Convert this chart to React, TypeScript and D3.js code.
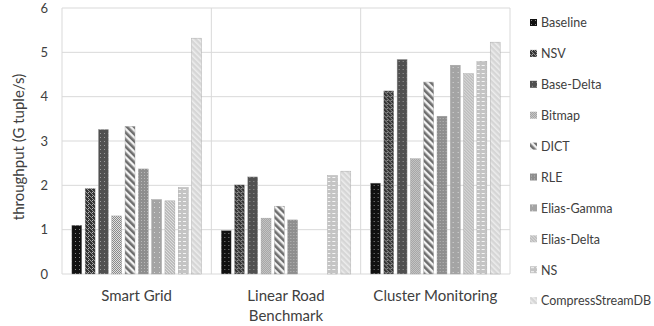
import React from 'react';
import * as d3 from 'd3';

const categories = ['Smart Grid', 'Linear Road Benchmark', 'Cluster Monitoring'];
const series = ['Baseline', 'NSV', 'Base-Delta', 'Bitmap', 'DICT', 'RLE', 'Elias-Gamma', 'Elias-Delta', 'NS', 'CompressStreamDB'];

// one array per category, in series order
const smartGrid = [1.1, 1.93, 3.26, 1.31, 3.33, 2.37, 1.68, 1.65, 1.95, 5.32];
const linearRoad = [0.98, 2.01, 2.19, 1.26, 1.53, 1.22, 0, 0, 2.22, 2.32];
const clusterMon = [2.05, 4.13, 4.84, 2.6, 4.33, 3.56, 4.71, 4.52, 4.8, 5.23];
const values = [smartGrid, linearRoad, clusterMon];

const yTicks = [0, 1, 2, 3, 4, 5, 6];

const W = 654;
const H = 326;
const margin = { top: 8, right: 144, bottom: 52, left: 62 };
const FONT = 'Lato, "Open Sans", sans-serif';
const GRID = '#d9d9d9';
const TEXT = '#404040';

// pattern id per series
const patId = (i: number) => `pat${i}`;

const Patterns = () => (
  <defs>
    {/* Baseline: black with sparse dots */}
    <pattern id={patId(0)} width="4" height="4" patternUnits="userSpaceOnUse">
      <rect width="4" height="4" fill="#111" />
      <rect x="1" y="1" width="1" height="1" fill="#888" />
    </pattern>
    {/* NSV: dark weave */}
    <pattern id={patId(1)} width="4" height="4" patternUnits="userSpaceOnUse">
      <rect width="4" height="4" fill="#333" />
      <path d="M0,0 L4,4 M-1,3 L1,5 M3,-1 L5,1" stroke="#9a9a9a" strokeWidth="1" />
      <rect x="2" y="0" width="1" height="1" fill="#bbb" />
    </pattern>
    {/* Base-Delta: dark grey with small dots */}
    <pattern id={patId(2)} width="4" height="4" patternUnits="userSpaceOnUse">
      <rect width="4" height="4" fill="#505050" />
      <rect x="2" y="1" width="1" height="1" fill="#999" />
    </pattern>
    {/* Bitmap: fine checker */}
    <pattern id={patId(3)} width="2" height="2" patternUnits="userSpaceOnUse">
      <rect width="2" height="2" fill="#e0e0e0" />
      <rect width="1" height="1" fill="#8a8a8a" />
      <rect x="1" y="1" width="1" height="1" fill="#8a8a8a" />
    </pattern>
    {/* DICT: wide diagonal stripes, top-left to bottom-right */}
    <pattern id={patId(4)} width="5" height="5" patternUnits="userSpaceOnUse" patternTransform="rotate(-45)">
      <rect width="5" height="5" fill="#f2f2f2" />
      <rect width="2.6" height="5" fill="#6e6e6e" />
    </pattern>
    {/* RLE: grey texture */}
    <pattern id={patId(5)} width="3" height="3" patternUnits="userSpaceOnUse">
      <rect width="3" height="3" fill="#8e8e8e" />
      <rect x="1" y="1" width="1" height="1" fill="#b8b8b8" />
    </pattern>
    {/* Elias-Gamma: grey with sparse dots */}
    <pattern id={patId(6)} width="5" height="5" patternUnits="userSpaceOnUse">
      <rect width="5" height="5" fill="#a4a4a4" />
      <rect x="2" y="2" width="1" height="1" fill="#d8d8d8" />
    </pattern>
    {/* Elias-Delta: light texture */}
    <pattern id={patId(7)} width="3" height="3" patternUnits="userSpaceOnUse">
      <rect width="3" height="3" fill="#bdbdbd" />
      <path d="M0,0 L3,3" stroke="#e6e6e6" strokeWidth="0.8" />
    </pattern>
    {/* NS: light grey with white dashes */}
    <pattern id={patId(8)} width="5" height="4" patternUnits="userSpaceOnUse">
      <rect width="5" height="4" fill="#c4c4c4" />
      <rect x="1" y="1" width="3" height="1" fill="#f4f4f4" />
    </pattern>
    {/* CompressStreamDB: very light diagonal */}
    <pattern id={patId(9)} width="4" height="4" patternUnits="userSpaceOnUse" patternTransform="rotate(-45)">
      <rect width="4" height="4" fill="#d6d6d6" />
      <rect width="1.5" height="4" fill="#ededed" />
    </pattern>
  </defs>
);

export default function App() {
  const x0 = d3
    .scaleBand<string>()
    .domain(categories)
    .range([margin.left, W - margin.right])
    .paddingInner(0)
    .paddingOuter(0);

  const x1 = d3
    .scaleBand<string>()
    .domain(series)
    .range([0, x0.bandwidth()])
    .paddingInner(0.25)
    .paddingOuter(0.74);

  const y = d3
    .scaleLinear()
    .domain([0, 6])
    .range([H - margin.bottom, margin.top]);

  const left = margin.left;
  const right = W - margin.right;

  const legendX = 530;
  const legendY0 = 23;
  const legendStep = 30.9;

  return (
    <svg
      width={W}
      height={H}
      style={{ position: 'absolute', left: 0, top: 0, background: '#fff' }}
      fontFamily={FONT}
    >
      <Patterns />

      {/* horizontal grid */}
      {yTicks.map((t) => (
        <line key={t} x1={left} x2={right} y1={y(t)} y2={y(t)} stroke={GRID} strokeWidth={1} />
      ))}
      {/* category separators */}
      {categories.map((c) => (
        <line key={c} x1={x0(c)!} x2={x0(c)!} y1={y(6)} y2={y(0)} stroke={GRID} strokeWidth={1} />
      ))}
      <line x1={right} x2={right} y1={y(6)} y2={y(0)} stroke={GRID} strokeWidth={1} />

      {/* y tick labels */}
      {yTicks.map((t) => (
        <text key={t} x={48} y={y(t)} dy="0.35em" textAnchor="end" fontSize={13} fill={TEXT}>
          {t}
        </text>
      ))}

      {/* y title */}
      <text
        transform={`translate(19,${(y(0) + y(6)) / 2 + 6}) rotate(-90)`}
        textAnchor="middle"
        dy="0.35em"
        fontSize={15}
        fill={TEXT}
      >
        throughput (G tuple/s)
      </text>

      {/* bars */}
      {categories.map((c, ci) => (
        <g key={c} transform={`translate(${x0(c)},0)`}>
          {series.map((s, si) => {
            const v = values[ci][si];
            if (!v) return null;
            return (
              <rect
                key={s}
                x={x1(s)!}
                y={y(v)}
                width={x1.bandwidth()}
                height={y(0) - y(v)}
                fill={`url(#${patId(si)})`}
                stroke="#a0a0a0"
                strokeWidth={0.4}
              />
            );
          })}
        </g>
      ))}

      {/* category labels */}
      {categories.map((c) => {
        const cx = x0(c)! + x0.bandwidth() / 2;
        const lines = c === 'Linear Road Benchmark' ? ['Linear Road', 'Benchmark'] : [c];
        return (
          <text key={c} x={cx} y={301} textAnchor="middle" fontSize={15} fill={TEXT}>
            {lines.map((l, li) => (
              <tspan key={l} x={cx} dy={li === 0 ? 0 : 20}>
                {l}
              </tspan>
            ))}
          </text>
        );
      })}

      {/* legend */}
      {series.map((s, i) => (
        <g key={s} transform={`translate(${legendX},${legendY0 + i * legendStep})`}>
          <rect x={0} y={-4} width={7} height={7} fill={`url(#${patId(i)})`} />
          <text x={11} y={0} dy="0.35em" fontSize={12.5} fill={TEXT}>
            {s}
          </text>
        </g>
      ))}
    </svg>
  );
}
